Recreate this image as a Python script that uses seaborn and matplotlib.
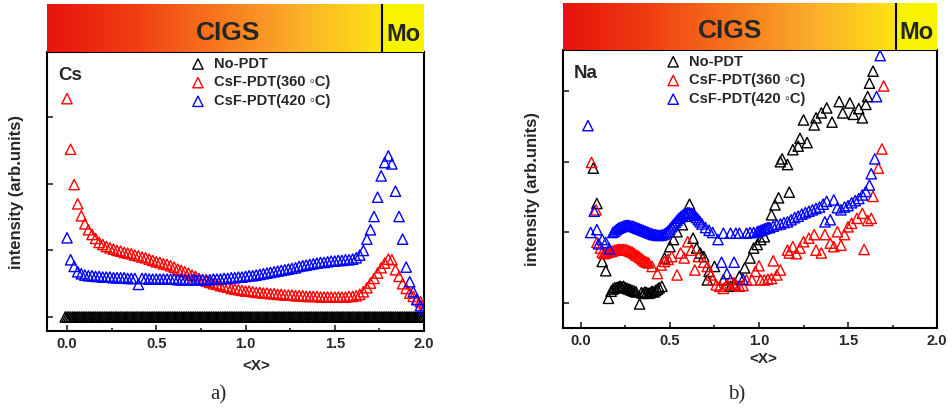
import numpy as np
import matplotlib
matplotlib.use("Agg")
import matplotlib.pyplot as plt
import seaborn as sns
from matplotlib.colors import LinearSegmentedColormap

# ---- data ----
labels = ["No-PDT", "CsF-PDT(360 \u25e6C)", "CsF-PDT(420 \u25e6C)"]
colors = ["black", "#ff0000", "#0000ff"]

# Cs depth profiles, common <X> grid
cs_x = [0.00, 0.02, 0.04, 0.06, 0.08, 0.10, 0.12, 0.14, 0.16, 0.18,
        0.20, 0.22, 0.24, 0.26, 0.28, 0.30, 0.32, 0.34, 0.36, 0.38,
        0.40, 0.42, 0.44, 0.46, 0.48, 0.50, 0.52, 0.54, 0.56, 0.58,
        0.60, 0.62, 0.64, 0.66, 0.68, 0.70, 0.72, 0.74, 0.76, 0.78,
        0.80, 0.82, 0.84, 0.86, 0.88, 0.90, 0.92, 0.94, 0.96, 0.98,
        1.00, 1.02, 1.04, 1.06, 1.08, 1.10, 1.12, 1.14, 1.16, 1.18,
        1.20, 1.22, 1.24, 1.26, 1.28, 1.30, 1.32, 1.34, 1.36, 1.38,
        1.40, 1.42, 1.44, 1.46, 1.48, 1.50, 1.52, 1.54, 1.56, 1.58,
        1.60, 1.62, 1.64, 1.66, 1.68, 1.70, 1.72, 1.74, 1.76, 1.78,
        1.80, 1.82, 1.84, 1.86, 1.88, 1.90, 1.92, 1.94, 1.96, 1.98,
        2.00]
# No-PDT Cs signal sits on the baseline (finer sampling)
cs_nopdt_x = [-0.01, 0.00, 0.01, 0.02, 0.03, 0.04, 0.05, 0.06, 0.07, 0.08, 0.09,
              0.10, 0.11, 0.12, 0.13, 0.14, 0.15, 0.16, 0.17, 0.18, 0.19,
              0.20, 0.21, 0.22, 0.23, 0.24, 0.25, 0.26, 0.27, 0.28, 0.29,
              0.30, 0.31, 0.32, 0.33, 0.34, 0.35, 0.36, 0.37, 0.38, 0.39,
              0.40, 0.41, 0.42, 0.43, 0.44, 0.45, 0.46, 0.47, 0.48, 0.49,
              0.50, 0.51, 0.52, 0.53, 0.54, 0.55, 0.56, 0.57, 0.58, 0.59,
              0.60, 0.61, 0.62, 0.63, 0.64, 0.65, 0.66, 0.67, 0.68, 0.69,
              0.70, 0.71, 0.72, 0.73, 0.74, 0.75, 0.76, 0.77, 0.78, 0.79,
              0.80, 0.81, 0.82, 0.83, 0.84, 0.85, 0.86, 0.87, 0.88, 0.89,
              0.90, 0.91, 0.92, 0.93, 0.94, 0.95, 0.96, 0.97, 0.98, 0.99,
              1.00, 1.01, 1.02, 1.03, 1.04, 1.05, 1.06, 1.07, 1.08, 1.09,
              1.10, 1.11, 1.12, 1.13, 1.14, 1.15, 1.16, 1.17, 1.18, 1.19,
              1.20, 1.21, 1.22, 1.23, 1.24, 1.25, 1.26, 1.27, 1.28, 1.29,
              1.30, 1.31, 1.32, 1.33, 1.34, 1.35, 1.36, 1.37, 1.38, 1.39,
              1.40, 1.41, 1.42, 1.43, 1.44, 1.45, 1.46, 1.47, 1.48, 1.49,
              1.50, 1.51, 1.52, 1.53, 1.54, 1.55, 1.56, 1.57, 1.58, 1.59,
              1.60, 1.61, 1.62, 1.63, 1.64, 1.65, 1.66, 1.67, 1.68, 1.69,
              1.70, 1.71, 1.72, 1.73, 1.74, 1.75, 1.76, 1.77, 1.78, 1.79,
              1.80, 1.81, 1.82, 1.83, 1.84, 1.85, 1.86, 1.87, 1.88, 1.89,
              1.90, 1.91, 1.92, 1.93, 1.94, 1.95, 1.96, 1.97, 1.98, 1.99,
              2.00]
cs_nopdt = [0.0,
            0.0, 0.0, 0.0, 0.0, 0.0, 0.0, 0.0, 0.0, 0.0, 0.0,
            0.0, 0.0, 0.0, 0.0, 0.0, 0.0, 0.0, 0.0, 0.0, 0.0,
            0.0, 0.0, 0.0, 0.0, 0.0, 0.0, 0.0, 0.0, 0.0, 0.0,
            0.0, 0.0, 0.0, 0.0, 0.0, 0.0, 0.0, 0.0, 0.0, 0.0,
            0.0, 0.0, 0.0, 0.0, 0.0, 0.0, 0.0, 0.0, 0.0, 0.0,
            0.0, 0.0, 0.0, 0.0, 0.0, 0.0, 0.0, 0.0, 0.0, 0.0,
            0.0, 0.0, 0.0, 0.0, 0.0, 0.0, 0.0, 0.0, 0.0, 0.0,
            0.0, 0.0, 0.0, 0.0, 0.0, 0.0, 0.0, 0.0, 0.0, 0.0,
            0.0, 0.0, 0.0, 0.0, 0.0, 0.0, 0.0, 0.0, 0.0, 0.0,
            0.0, 0.0, 0.0, 0.0, 0.0, 0.0, 0.0, 0.0, 0.0, 0.0,
            0.0, 0.0, 0.0, 0.0, 0.0, 0.0, 0.0, 0.0, 0.0, 0.0,
            0.0, 0.0, 0.0, 0.0, 0.0, 0.0, 0.0, 0.0, 0.0, 0.0,
            0.0, 0.0, 0.0, 0.0, 0.0, 0.0, 0.0, 0.0, 0.0, 0.0,
            0.0, 0.0, 0.0, 0.0, 0.0, 0.0, 0.0, 0.0, 0.0, 0.0,
            0.0, 0.0, 0.0, 0.0, 0.0, 0.0, 0.0, 0.0, 0.0, 0.0,
            0.0, 0.0, 0.0, 0.0, 0.0, 0.0, 0.0, 0.0, 0.0, 0.0,
            0.0, 0.0, 0.0, 0.0, 0.0, 0.0, 0.0, 0.0, 0.0, 0.0,
            0.0, 0.0, 0.0, 0.0, 0.0, 0.0, 0.0, 0.0, 0.0, 0.0,
            0.0, 0.0, 0.0, 0.0, 0.0, 0.0, 0.0, 0.0, 0.0, 0.0,
            0.0, 0.0, 0.0, 0.0, 0.0, 0.0, 0.0, 0.0, 0.0, 0.0,
            0.0]
cs_360 = [3.28, 2.52, 1.99, 1.70, 1.52, 1.40, 1.31, 1.24, 1.18, 1.12,
          1.09, 1.06, 1.04, 1.02, 1.00, 0.99, 0.97, 0.96, 0.95, 0.93,
          0.92, 0.90, 0.89, 0.87, 0.85, 0.83, 0.82, 0.80, 0.79, 0.77,
          0.75, 0.72, 0.70, 0.68, 0.66, 0.63, 0.61, 0.58, 0.56, 0.54,
          0.52, 0.50, 0.49, 0.47, 0.46, 0.45, 0.43, 0.42, 0.41, 0.40,
          0.39, 0.39, 0.38, 0.37, 0.37, 0.36, 0.36, 0.35, 0.35, 0.34,
          0.34, 0.33, 0.33, 0.33, 0.32, 0.32, 0.32, 0.31, 0.31, 0.31,
          0.31, 0.30, 0.30, 0.30, 0.30, 0.30, 0.30, 0.30, 0.30, 0.31,
          0.31, 0.32, 0.34, 0.38, 0.44, 0.51, 0.58, 0.66, 0.74, 0.81,
          0.87, 0.86, 0.71, 0.61, 0.50, 0.43, 0.36, 0.31, 0.27, 0.23,
          0.20]
cs_420 = [1.19, 0.86, 0.76, 0.68, 0.65, 0.63, 0.62, 0.62, 0.61, 0.61,
          0.60, 0.60, 0.60, 0.59, 0.59, 0.59, 0.59, 0.58, 0.58, 0.58,
          0.49, 0.58, 0.58, 0.57, 0.57, 0.57, 0.57, 0.57, 0.57, 0.57,
          0.57, 0.56, 0.56, 0.56, 0.56, 0.56, 0.56, 0.56, 0.56, 0.56,
          0.56, 0.57, 0.57, 0.57, 0.58, 0.58, 0.59, 0.59, 0.60, 0.60,
          0.61, 0.62, 0.62, 0.63, 0.64, 0.65, 0.66, 0.67, 0.68, 0.69,
          0.70, 0.71, 0.72, 0.73, 0.74, 0.76, 0.77, 0.78, 0.79, 0.80,
          0.81, 0.82, 0.82, 0.83, 0.84, 0.84, 0.85, 0.85, 0.86, 0.86,
          0.87, 0.89, 0.93, 1.00, 1.17, 1.31, 1.51, 1.80, 2.12, 2.32,
          2.42, 2.30, 1.89, 1.51, 1.17, 0.75, 0.53, 0.38, 0.26, 0.17,
          0.12]

# Na depth profiles
na_nopdt_x = [0.07, 0.09, 0.12, 0.14, 0.155,
              0.17, 0.18, 0.19, 0.20, 0.21, 0.22, 0.23, 0.24, 0.25, 0.26,
              0.27, 0.28, 0.29, 0.30, 0.31,
              0.33, 0.34, 0.35, 0.36, 0.37, 0.38, 0.39, 0.40, 0.41, 0.42,
              0.43, 0.44, 0.455,
              0.47, 0.50, 0.52, 0.54, 0.57, 0.59, 0.61, 0.63, 0.65, 0.67,
              0.69, 0.71, 0.72, 0.75,
              0.80, 0.84, 0.86, 0.89, 0.92, 0.95, 0.97, 0.99, 1.01, 1.03,
              1.07, 1.09, 1.11, 1.12, 1.13, 1.16, 1.17, 1.19, 1.22, 1.23,
              1.25, 1.27,
              1.31, 1.32, 1.35, 1.38, 1.41, 1.45, 1.47, 1.51, 1.53, 1.56,
              1.58, 1.60, 1.61, 1.62, 1.64]
na_nopdt_y = [1.91, 1.41, 0.59, 0.46, 0.07,
              0.17, 0.20, 0.22, 0.22, 0.23, 0.24, 0.23, 0.24, 0.22, 0.21,
              0.20, 0.19, 0.18, 0.17, 0.16,
              -0.01, 0.15, 0.14, 0.16, 0.15, 0.14, 0.15, 0.17, 0.16, 0.18,
              0.20, 0.22, 0.24,
              0.64, 0.80, 0.90, 1.01, 1.11, 1.23, 1.40, 0.92, 0.78, 0.71,
              0.66, 0.33, 0.45, 0.52,
              0.33, 0.24, 0.26, 0.38, 0.50, 0.64, 0.78, 0.83, 0.90, 0.94,
              1.25, 1.39, 1.49, 2.00, 2.04, 1.96, 1.57, 2.17, 2.22, 2.33,
              2.59, 2.27,
              2.52, 2.62, 2.69, 2.76, 2.56, 2.85, 2.69, 2.83, 2.67, 2.75,
              2.62, 2.81, 2.92, 3.11, 3.28]

na_360_x = [0.06, 0.085, 0.09,
            0.11, 0.12, 0.13, 0.14, 0.15, 0.16, 0.17, 0.18, 0.19, 0.20,
            0.21, 0.22, 0.23, 0.24, 0.25, 0.26, 0.27, 0.28, 0.29, 0.30,
            0.31, 0.32, 0.33, 0.34, 0.35, 0.36, 0.37, 0.38,
            0.40, 0.43, 0.45, 0.47, 0.49, 0.51, 0.54, 0.56, 0.58, 0.60,
            0.62, 0.64, 0.66, 0.69, 0.71, 0.73, 0.74, 0.76, 0.78, 0.80,
            0.82, 0.84, 0.86, 0.87, 0.89, 0.91, 0.93, 0.96, 0.98, 1.00,
            1.01, 1.03, 1.05, 1.07, 1.08, 1.10, 1.12, 1.16, 1.17, 1.19,
            1.21, 1.23, 1.25, 1.28, 1.31, 1.32, 1.35, 1.37, 1.40, 1.42,
            1.44, 1.46, 1.48, 1.50, 1.52, 1.55, 1.58, 1.59, 1.61, 1.63,
            1.64, 1.67, 1.69, 1.70]
na_360_y = [1.99, 1.32, 0.86,
            0.78, 0.72, 0.70, 0.71, 0.72, 0.73, 0.73, 0.74, 0.75, 0.75,
            0.76, 0.76, 0.76, 0.76, 0.76, 0.75, 0.74, 0.73, 0.72, 0.70,
            0.68, 0.67, 0.65, 0.63, 0.61, 0.59, 0.58, 0.57,
            0.52, 0.42, 0.54, 0.59, 0.62, 0.66, 0.40, 0.71, 0.64, 0.87,
            0.75, 0.47, 0.66, 0.58, 0.52, 0.40, 0.33, 0.26, 0.24, 0.21,
            0.27, 0.33, 0.29, 0.26, 0.24, 0.25, 0.33, 0.33, 0.45, 0.53,
            0.33, 0.33, 0.34, 0.35, 0.60, 0.40, 0.47, 0.75, 0.71, 0.80,
            0.70, 0.78, 0.87, 0.92, 0.97, 0.75, 0.71, 0.97, 0.85, 0.80,
            1.01, 0.82, 0.97, 1.08, 1.13, 1.20, 1.27, 0.76, 1.17, 1.20,
            1.51, 1.91, 2.18, 3.07]

na_420_x = [0.04, 0.055, 0.075, 0.09, 0.10, 0.12, 0.14, 0.16,
            0.18, 0.19, 0.20, 0.21, 0.22, 0.23, 0.24, 0.25, 0.26, 0.27,
            0.28, 0.29, 0.30, 0.31, 0.32, 0.33, 0.34, 0.35, 0.36, 0.37,
            0.38, 0.39, 0.40, 0.41, 0.42, 0.43, 0.44, 0.45, 0.46, 0.47,
            0.48, 0.49, 0.50, 0.51, 0.52, 0.53, 0.54, 0.55, 0.56, 0.57,
            0.58, 0.59, 0.60, 0.61, 0.62, 0.63, 0.64, 0.65, 0.66, 0.67,
            0.68,
            0.70, 0.72, 0.74, 0.77, 0.79, 0.80, 0.82, 0.84, 0.86, 0.87,
            0.89, 0.91, 0.93, 0.95, 0.97, 0.99,
            1.00, 1.01, 1.02, 1.03, 1.04, 1.05, 1.06,
            1.08, 1.10, 1.12, 1.14, 1.16, 1.18, 1.20, 1.22, 1.24, 1.26,
            1.28, 1.30, 1.32, 1.34, 1.36,
            1.37, 1.38, 1.40, 1.42, 1.44, 1.46, 1.48, 1.50, 1.52, 1.54,
            1.56, 1.58, 1.60, 1.62, 1.63, 1.65, 1.66, 1.68]
na_420_y = [2.51, 1.00, 1.30, 1.04, 0.84, 0.90, 0.86, 0.77,
            1.00, 1.02, 1.04, 1.06, 1.07, 1.08, 1.09, 1.10, 1.10, 1.10,
            1.09, 1.09, 1.08, 1.07, 1.06, 1.05, 1.04, 1.03, 1.02, 1.01,
            1.00, 0.99, 0.98, 0.97, 0.97, 0.96, 0.96, 0.96, 0.97, 0.98,
            1.00, 1.02, 1.05, 1.08, 1.11, 1.14, 1.17, 1.20, 1.22, 1.24,
            1.26, 1.27, 1.28, 1.28, 1.27, 1.26, 1.24, 1.21, 1.18, 1.15,
            1.12,
            1.07, 1.03, 1.00, 0.90, 0.58, 0.99, 0.42, 0.99, 0.58, 0.99,
            0.99, 0.34, 0.99, 1.00, 1.00, 1.01,
            1.02, 1.03, 1.04, 1.05, 1.06, 1.07, 1.07,
            1.09, 1.11, 1.12, 1.14, 1.15, 1.18, 1.21, 1.23, 1.26, 1.28,
            1.30, 1.32, 1.34, 1.36, 1.40,
            1.15, 1.44, 1.18, 1.46, 1.35, 1.32, 1.36, 1.38, 1.42, 1.45,
            1.48, 1.53, 1.58, 1.67, 1.83, 2.04, 2.92, 3.50]

# ---- style ----
sns.set_theme(style="ticks")
plt.rcParams["font.family"] = ["Liberation Sans", "DejaVu Sans"]
plt.rcParams["font.weight"] = "bold"
plt.rcParams["axes.labelweight"] = "bold"

cigs_cmap = LinearSegmentedColormap.from_list(
    "cigs", ["#e8120e", "#ef3c12", "#f7741c", "#fbae2a", "#fde414"])

fig = plt.figure(figsize=(9.52, 4.09), dpi=100)


def panel(rect, head_rect, xlim, ylim, mo_edge, cigs_x, series, element,
          legend_anchor, xlabel_x, xlabel_y, tag, tag_x):
    ax = fig.add_axes(rect)
    for (x, y), c, lab in zip(series, colors, labels):
        sns.scatterplot(x=x, y=y, ax=ax, marker="^", s=55, color=c,
                        edgecolor=c, facecolors="none", linewidth=1.0,
                        label=lab, zorder=3)
    ax.set_xlim(xlim)
    ax.set_ylim(ylim)
    ax.set_xticks([0, 0.5, 1.0, 1.5, 2.0])
    ax.set_xticklabels(["0.0", "0.5", "1.0", "1.5", "2.0"])
    ax.set_xticks([0.25, 0.75, 1.25, 1.75], minor=True)
    ax.set_yticks([0, 1, 2, 3])
    ax.set_yticklabels([])
    ax.tick_params(which="major", direction="in", length=4, width=1.2,
                   labelsize=10.5, pad=4)
    ax.tick_params(which="minor", direction="in", length=2.5, width=1.2)
    for s in ax.spines.values():
        s.set_linewidth(1.5)
        s.set_color("black")
    ax.set_xlabel("<X>", fontsize=11)
    ax.xaxis.set_label_coords(xlabel_x, xlabel_y)
    ax.set_ylabel("intensity (arb.units)", fontsize=12)
    ax.yaxis.set_label_coords(-0.061, 0.5)
    ax.text(0.03, 0.945, element, transform=ax.transAxes, ha="left",
            va="top", fontsize=13.5, weight="bold")
    ax.legend(loc="upper left", bbox_to_anchor=legend_anchor, frameon=False,
              borderaxespad=0, borderpad=0, handlelength=1.0,
              handletextpad=0.6, labelspacing=0.32,
              prop={"size": 10.5, "weight": "bold"})

    hx = fig.add_axes(head_rect)
    grad = np.linspace(0, 1, 256).reshape(1, -1)
    hx.imshow(grad, extent=[xlim[0], mo_edge, 0, 1], aspect="auto",
              cmap=cigs_cmap)
    hx.axvspan(mo_edge, xlim[1], color="#f8f400")
    hx.axvline(mo_edge, color="black", lw=1.5)
    hx.set_xlim(xlim)
    hx.set_ylim(0, 1)
    hx.axis("off")
    hx.text(cigs_x, 0.40, "CIGS", ha="center", va="center", fontsize=19,
            weight="bold")
    hx.text((mo_edge + xlim[1]) / 2, 0.36, "Mo", ha="center", va="center",
            fontsize=17, weight="bold")

    fig.text(tag_x, 0.034, tag, ha="center", va="center", fontsize=15,
             family="Liberation Serif", weight="normal")


panel([0.0494, 0.1907, 0.396, 0.682], [0.0494, 0.873, 0.396, 0.117],
      (-0.112, 2.0), (-0.21, 3.98), 1.764, 0.90,
      [(cs_nopdt_x, cs_nopdt), (cs_x, cs_360), (cs_x, cs_420)], "Cs",
      (0.381, 0.983), 0.554, -0.10, "a)", 0.229)

panel([0.5914, 0.198, 0.393, 0.680], [0.5914, 0.878, 0.393, 0.115],
      (-0.10, 2.0), (-0.35, 3.58), 1.77, 0.84,
      [(na_nopdt_x, na_nopdt_y), (na_360_x, na_360_y), (na_420_x, na_420_y)],
      "Na", (0.275, 0.983), 0.535, -0.086, "b)", 0.774)

fig.savefig("out.png", dpi=100)
